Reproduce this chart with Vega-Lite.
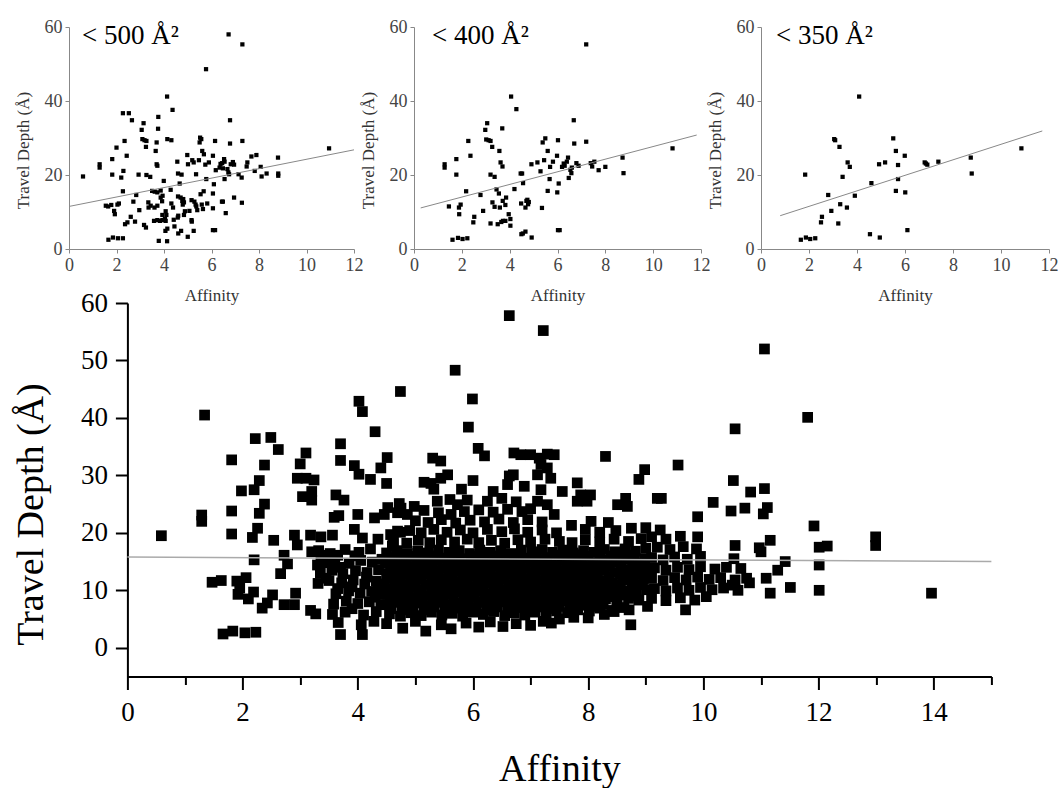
{
"$schema": "https://vega.github.io/schema/vega-lite/v6.json",
"padding": {"left": 12, "top": 18, "right": 5, "bottom": 0},
"config": {
  "font": "Liberation Serif",
  "view": {"stroke": null},
  "axis": {"grid": false, "titleFont": "Liberation Serif", "labelFont": "Liberation Serif", "titleFontWeight": "normal", "labelOverlap": false, "labelFlush": false, "format": "d"},
  "title": {"font": "Liberation Serif", "fontWeight": "normal", "color": "#000"}
},
"datasets": {
  "area500": [
    {"affinity":0.59,"depth":19.6},{"affinity":1.29,"depth":22.9},{"affinity":1.29,"depth":22.0},{"affinity":1.55,"depth":11.7},{"affinity":1.65,"depth":11.5},{"affinity":1.78,"depth":11.9},{"affinity":1.66,"depth":2.5},{"affinity":1.85,"depth":3.1},{"affinity":2.06,"depth":2.9},{"affinity":2.27,"depth":2.9},{"affinity":1.82,"depth":24.3},{"affinity":1.82,"depth":20.1},{"affinity":1.9,"depth":10.3},{"affinity":1.93,"depth":9.4},{"affinity":2.0,"depth":27.4},{"affinity":2.1,"depth":12.3},{"affinity":2.04,"depth":12.0},{"affinity":2.2,"depth":19.3},{"affinity":2.27,"depth":36.7},{"affinity":2.52,"depth":36.7},{"affinity":2.34,"depth":29.2},{"affinity":2.29,"depth":21.1},{"affinity":2.43,"depth":25.2},{"affinity":2.27,"depth":15.6},{"affinity":2.36,"depth":6.7},{"affinity":2.46,"depth":7.2},{"affinity":2.6,"depth":8.7},{"affinity":2.65,"depth":34.8},{"affinity":2.71,"depth":12.8},{"affinity":2.78,"depth":7.4},{"affinity":2.83,"depth":14.6},{"affinity":2.93,"depth":20.1},{"affinity":2.96,"depth":10.5},{"affinity":3.06,"depth":32.2},{"affinity":3.14,"depth":34.0},{"affinity":3.09,"depth":29.7},{"affinity":3.18,"depth":29.4},{"affinity":3.26,"depth":29.2},{"affinity":3.24,"depth":27.6},{"affinity":3.16,"depth":6.5},{"affinity":3.24,"depth":5.8},{"affinity":3.26,"depth":20.0},{"affinity":3.42,"depth":19.5},{"affinity":3.34,"depth":12.6},{"affinity":3.35,"depth":11.2},{"affinity":3.44,"depth":11.7},{"affinity":3.5,"depth":15.7},{"affinity":3.58,"depth":7.6},{"affinity":3.72,"depth":7.8},{"affinity":3.83,"depth":7.6},{"affinity":3.93,"depth":7.8},{"affinity":3.65,"depth":26.5},{"affinity":3.69,"depth":28.8},{"affinity":3.69,"depth":22.9},{"affinity":3.72,"depth":22.5},{"affinity":3.76,"depth":35.7},{"affinity":3.75,"depth":32.5},{"affinity":3.61,"depth":15.5},{"affinity":3.72,"depth":15.3},{"affinity":3.86,"depth":15.8},{"affinity":3.6,"depth":11.2},{"affinity":3.72,"depth":11.7},{"affinity":3.78,"depth":2.2},{"affinity":3.86,"depth":13.9},{"affinity":3.94,"depth":14.4},{"affinity":3.92,"depth":12.9},{"affinity":3.93,"depth":9.2},{"affinity":4.07,"depth":10.2},{"affinity":4.1,"depth":9.2},{"affinity":4.04,"depth":8.1},{"affinity":4.07,"depth":7.6},{"affinity":4.06,"depth":4.9},{"affinity":4.14,"depth":5.5},{"affinity":3.99,"depth":18.4},{"affinity":4.13,"depth":41.2},{"affinity":4.14,"depth":29.7},{"affinity":4.31,"depth":29.4},{"affinity":4.13,"depth":2.1},{"affinity":4.28,"depth":16.0},{"affinity":4.36,"depth":37.6},{"affinity":4.31,"depth":12.3},{"affinity":4.38,"depth":11.2},{"affinity":4.41,"depth":7.9},{"affinity":4.44,"depth":6.1},{"affinity":4.56,"depth":23.6},{"affinity":4.59,"depth":20.4},{"affinity":4.74,"depth":20.1},{"affinity":4.59,"depth":14.2},{"affinity":4.7,"depth":13.9},{"affinity":4.58,"depth":8.5},{"affinity":4.6,"depth":9.0},{"affinity":4.6,"depth":4.2},{"affinity":4.72,"depth":4.9},{"affinity":4.66,"depth":17.7},{"affinity":4.77,"depth":13.0},{"affinity":4.81,"depth":13.5},{"affinity":4.84,"depth":12.6},{"affinity":4.84,"depth":9.2},{"affinity":4.88,"depth":10.2},{"affinity":4.79,"depth":12.0},{"affinity":4.98,"depth":25.4},{"affinity":5.01,"depth":22.9},{"affinity":5.0,"depth":3.3},{"affinity":5.07,"depth":10.3},{"affinity":5.16,"depth":7.8},{"affinity":5.17,"depth":7.4},{"affinity":5.16,"depth":13.2},{"affinity":5.19,"depth":24.0},{"affinity":5.25,"depth":23.4},{"affinity":5.25,"depth":4.9},{"affinity":5.28,"depth":12.8},{"affinity":5.33,"depth":12.0},{"affinity":5.36,"depth":11.5},{"affinity":5.35,"depth":20.2},{"affinity":5.4,"depth":10.5},{"affinity":5.47,"depth":24.0},{"affinity":5.52,"depth":30.1},{"affinity":5.57,"depth":29.7},{"affinity":5.5,"depth":28.8},{"affinity":5.54,"depth":14.8},{"affinity":5.59,"depth":12.0},{"affinity":5.64,"depth":10.8},{"affinity":5.61,"depth":26.5},{"affinity":5.67,"depth":15.6},{"affinity":5.68,"depth":25.6},{"affinity":5.74,"depth":22.8},{"affinity":5.77,"depth":48.6},{"affinity":5.78,"depth":18.9},{"affinity":5.82,"depth":12.3},{"affinity":5.89,"depth":23.4},{"affinity":6.06,"depth":25.2},{"affinity":6.06,"depth":15.0},{"affinity":6.1,"depth":17.5},{"affinity":6.06,"depth":11.0},{"affinity":6.06,"depth":5.1},{"affinity":6.15,"depth":5.1},{"affinity":6.15,"depth":29.2},{"affinity":6.18,"depth":21.3},{"affinity":6.34,"depth":22.0},{"affinity":6.38,"depth":23.0},{"affinity":6.45,"depth":23.2},{"affinity":6.48,"depth":21.8},{"affinity":6.44,"depth":12.8},{"affinity":6.48,"depth":12.8},{"affinity":6.53,"depth":24.3},{"affinity":6.55,"depth":23.6},{"affinity":6.55,"depth":18.9},{"affinity":6.6,"depth":9.7},{"affinity":6.67,"depth":21.6},{"affinity":6.71,"depth":20.7},{"affinity":6.74,"depth":20.2},{"affinity":6.72,"depth":58.0},{"affinity":6.78,"depth":34.8},{"affinity":6.78,"depth":28.5},{"affinity":6.81,"depth":22.9},{"affinity":6.9,"depth":23.5},{"affinity":6.95,"depth":22.8},{"affinity":6.95,"depth":13.9},{"affinity":7.14,"depth":20.2},{"affinity":7.27,"depth":19.3},{"affinity":7.3,"depth":55.3},{"affinity":7.3,"depth":29.2},{"affinity":7.28,"depth":12.5},{"affinity":7.48,"depth":22.3},{"affinity":7.51,"depth":23.4},{"affinity":7.68,"depth":25.0},{"affinity":7.89,"depth":25.4},{"affinity":7.82,"depth":21.1},{"affinity":8.07,"depth":22.2},{"affinity":8.11,"depth":19.6},{"affinity":8.32,"depth":20.4},{"affinity":8.8,"depth":24.7},{"affinity":8.81,"depth":20.4},{"affinity":8.81,"depth":19.8},{"affinity":10.95,"depth":27.2}
  ],
  "area400": [
    {"affinity":1.28,"depth":22.9},{"affinity":1.28,"depth":22.0},{"affinity":1.46,"depth":11.5},{"affinity":1.61,"depth":2.5},{"affinity":1.77,"depth":24.3},{"affinity":1.77,"depth":20.1},{"affinity":1.84,"depth":3.0},{"affinity":1.88,"depth":11.2},{"affinity":1.95,"depth":12.0},{"affinity":1.89,"depth":9.4},{"affinity":2.03,"depth":2.7},{"affinity":2.23,"depth":2.9},{"affinity":2.18,"depth":15.6},{"affinity":2.27,"depth":29.2},{"affinity":2.36,"depth":25.2},{"affinity":2.48,"depth":7.2},{"affinity":2.52,"depth":8.7},{"affinity":2.78,"depth":14.6},{"affinity":2.89,"depth":10.3},{"affinity":2.98,"depth":32.2},{"affinity":3.06,"depth":34.0},{"affinity":3.02,"depth":29.6},{"affinity":3.12,"depth":29.4},{"affinity":3.2,"depth":29.2},{"affinity":3.2,"depth":6.9},{"affinity":3.2,"depth":20.1},{"affinity":3.37,"depth":19.5},{"affinity":3.27,"depth":27.6},{"affinity":3.28,"depth":12.6},{"affinity":3.37,"depth":11.4},{"affinity":3.45,"depth":16.1},{"affinity":3.5,"depth":6.7},{"affinity":3.65,"depth":7.3},{"affinity":3.72,"depth":7.6},{"affinity":3.82,"depth":7.6},{"affinity":3.55,"depth":15.0},{"affinity":3.57,"depth":26.5},{"affinity":3.62,"depth":23.4},{"affinity":3.69,"depth":32.6},{"affinity":3.7,"depth":22.3},{"affinity":3.59,"depth":11.2},{"affinity":3.71,"depth":13.0},{"affinity":3.82,"depth":11.9},{"affinity":3.85,"depth":13.9},{"affinity":3.96,"depth":9.4},{"affinity":4.03,"depth":8.1},{"affinity":4.03,"depth":6.3},{"affinity":4.06,"depth":41.2},{"affinity":4.28,"depth":37.8},{"affinity":4.2,"depth":16.2},{"affinity":4.46,"depth":20.4},{"affinity":4.52,"depth":20.4},{"affinity":4.48,"depth":12.3},{"affinity":4.49,"depth":4.0},{"affinity":4.55,"depth":4.2},{"affinity":4.56,"depth":17.8},{"affinity":4.66,"depth":4.7},{"affinity":4.66,"depth":11.2},{"affinity":4.7,"depth":13.0},{"affinity":4.74,"depth":13.3},{"affinity":4.77,"depth":12.1},{"affinity":4.8,"depth":12.7},{"affinity":4.91,"depth":22.9},{"affinity":4.92,"depth":3.1},{"affinity":5.16,"depth":23.4},{"affinity":5.29,"depth":21.0},{"affinity":5.35,"depth":11.1},{"affinity":5.38,"depth":28.8},{"affinity":5.49,"depth":29.9},{"affinity":5.44,"depth":24.0},{"affinity":5.59,"depth":26.5},{"affinity":5.59,"depth":15.7},{"affinity":5.67,"depth":18.9},{"affinity":5.69,"depth":22.2},{"affinity":5.81,"depth":23.6},{"affinity":5.98,"depth":25.2},{"affinity":6.02,"depth":29.4},{"affinity":5.99,"depth":15.3},{"affinity":6.02,"depth":5.1},{"affinity":6.09,"depth":5.1},{"affinity":6.05,"depth":17.7},{"affinity":6.19,"depth":22.2},{"affinity":6.26,"depth":23.1},{"affinity":6.3,"depth":22.5},{"affinity":6.39,"depth":23.6},{"affinity":6.44,"depth":24.7},{"affinity":6.47,"depth":19.2},{"affinity":6.54,"depth":21.4},{"affinity":6.6,"depth":22.0},{"affinity":6.58,"depth":20.5},{"affinity":6.68,"depth":34.8},{"affinity":6.7,"depth":28.5},{"affinity":6.79,"depth":23.2},{"affinity":6.88,"depth":22.5},{"affinity":7.2,"depth":55.3},{"affinity":7.2,"depth":29.0},{"affinity":7.39,"depth":23.2},{"affinity":7.45,"depth":22.3},{"affinity":7.54,"depth":23.6},{"affinity":7.72,"depth":21.3},{"affinity":8.0,"depth":22.2},{"affinity":8.72,"depth":24.7},{"affinity":8.76,"depth":20.5},{"affinity":10.81,"depth":27.2}
  ],
  "area350": [
    {"affinity":1.66,"depth":2.5},{"affinity":1.84,"depth":20.1},{"affinity":1.87,"depth":3.1},{"affinity":2.05,"depth":2.7},{"affinity":2.26,"depth":2.9},{"affinity":2.5,"depth":7.2},{"affinity":2.54,"depth":8.7},{"affinity":2.8,"depth":14.6},{"affinity":2.93,"depth":10.3},{"affinity":3.05,"depth":29.7},{"affinity":3.09,"depth":29.4},{"affinity":3.22,"depth":6.9},{"affinity":3.27,"depth":27.6},{"affinity":3.3,"depth":12.1},{"affinity":3.4,"depth":19.5},{"affinity":3.58,"depth":11.2},{"affinity":3.61,"depth":23.4},{"affinity":3.7,"depth":22.2},{"affinity":3.91,"depth":14.4},{"affinity":4.09,"depth":41.2},{"affinity":4.54,"depth":4.0},{"affinity":4.6,"depth":17.8},{"affinity":4.92,"depth":22.9},{"affinity":4.95,"depth":3.1},{"affinity":5.17,"depth":23.4},{"affinity":5.51,"depth":29.9},{"affinity":5.62,"depth":26.5},{"affinity":5.62,"depth":15.7},{"affinity":5.71,"depth":22.7},{"affinity":5.71,"depth":18.9},{"affinity":5.99,"depth":25.2},{"affinity":6.01,"depth":15.3},{"affinity":6.1,"depth":5.1},{"affinity":6.82,"depth":23.4},{"affinity":6.87,"depth":23.1},{"affinity":6.93,"depth":22.8},{"affinity":7.39,"depth":23.6},{"affinity":8.74,"depth":24.7},{"affinity":8.78,"depth":20.4},{"affinity":10.85,"depth":27.2}
  ],
  "all": [
    {"affinity":0.59,"depth":19.5},{"affinity":1.34,"depth":40.5},{"affinity":1.29,"depth":23.1},{"affinity":1.29,"depth":22.0},{"affinity":1.47,"depth":11.4},{"affinity":1.63,"depth":11.7},{"affinity":1.66,"depth":2.4},{"affinity":1.83,"depth":2.9},{"affinity":2.04,"depth":2.6},{"affinity":2.23,"depth":2.7},{"affinity":1.81,"depth":32.7},{"affinity":1.81,"depth":23.8},{"affinity":1.81,"depth":19.8},{"affinity":1.98,"depth":27.3},{"affinity":1.9,"depth":11.6},{"affinity":1.95,"depth":10.4},{"affinity":1.92,"depth":9.3},{"affinity":2.06,"depth":12.2},{"affinity":2.1,"depth":8.5},{"affinity":2.19,"depth":9.7},{"affinity":2.22,"depth":36.4},{"affinity":2.49,"depth":36.6},{"affinity":2.62,"depth":34.5},{"affinity":2.38,"depth":31.8},{"affinity":2.29,"depth":29.1},{"affinity":2.2,"depth":27.5},{"affinity":2.38,"depth":25.0},{"affinity":2.29,"depth":23.4},{"affinity":2.26,"depth":20.8},{"affinity":2.17,"depth":19.2},{"affinity":2.2,"depth":15.3},{"affinity":2.54,"depth":18.7},{"affinity":2.34,"depth":6.9},{"affinity":2.43,"depth":7.8},{"affinity":2.52,"depth":9.2},{"affinity":2.72,"depth":16.1},{"affinity":2.78,"depth":14.6},{"affinity":2.66,"depth":12.9},{"affinity":2.9,"depth":19.6},{"affinity":2.95,"depth":17.9},{"affinity":2.72,"depth":7.5},{"affinity":2.9,"depth":7.5},{"affinity":2.92,"depth":9.5},{"affinity":3.1,"depth":33.9},{"affinity":3.0,"depth":32.0},{"affinity":2.95,"depth":29.5},{"affinity":3.1,"depth":29.5},{"affinity":3.24,"depth":29.2},{"affinity":3.2,"depth":27.2},{"affinity":3.04,"depth":26.3},{"affinity":3.2,"depth":25.7},{"affinity":3.18,"depth":19.6},{"affinity":3.36,"depth":19.3},{"affinity":3.56,"depth":19.6},{"affinity":3.2,"depth":16.7},{"affinity":3.36,"depth":16.1},{"affinity":3.3,"depth":14.4},{"affinity":3.47,"depth":15.0},{"affinity":3.65,"depth":16.1},{"affinity":3.18,"depth":6.5},{"affinity":3.27,"depth":5.9},{"affinity":3.62,"depth":26.6},{"affinity":3.76,"depth":25.7},{"affinity":3.7,"depth":35.5},{"affinity":3.7,"depth":32.6},{"affinity":3.59,"depth":22.7},{"affinity":3.67,"depth":23.0},{"affinity":4.0,"depth":23.2},{"affinity":3.94,"depth":20.6},{"affinity":4.08,"depth":19.1},{"affinity":3.94,"depth":31.7},{"affinity":4.02,"depth":30.2},{"affinity":4.22,"depth":29.3},{"affinity":4.4,"depth":31.3},{"affinity":4.02,"depth":42.9},{"affinity":4.08,"depth":41.1},{"affinity":4.3,"depth":37.6},{"affinity":4.51,"depth":33.1},{"affinity":4.5,"depth":28.6},{"affinity":4.29,"depth":22.6},{"affinity":4.46,"depth":23.2},{"affinity":4.52,"depth":24.4},{"affinity":4.72,"depth":25.1},{"affinity":4.69,"depth":23.5},{"affinity":4.35,"depth":18.9},{"affinity":4.61,"depth":18.0},{"affinity":4.74,"depth":20.1},{"affinity":4.74,"depth":44.6},
    {"affinity":6.63,"depth":57.8},{"affinity":7.22,"depth":55.2},{"affinity":5.69,"depth":48.3},{"affinity":5.99,"depth":43.3},{"affinity":5.92,"depth":38.4},{"affinity":6.09,"depth":34.7},{"affinity":6.2,"depth":33.4},{"affinity":6.71,"depth":33.9},{"affinity":6.83,"depth":33.6},{"affinity":7.0,"depth":33.6},{"affinity":7.15,"depth":33.0},{"affinity":7.29,"depth":33.7},{"affinity":7.41,"depth":33.6},{"affinity":7.18,"depth":31.9},{"affinity":7.29,"depth":31.3},{"affinity":7.35,"depth":29.5},{"affinity":7.12,"depth":30.1},{"affinity":6.63,"depth":29.9},{"affinity":6.7,"depth":30.1},{"affinity":6.89,"depth":28.1},{"affinity":6.6,"depth":28.4},{"affinity":7.18,"depth":27.5},{"affinity":7.12,"depth":25.5},{"affinity":7.29,"depth":24.9},{"affinity":7.41,"depth":23.2},{"affinity":7.55,"depth":27.2},{"affinity":7.81,"depth":28.7},{"affinity":7.87,"depth":26.6},{"affinity":8.04,"depth":26.6},{"affinity":7.81,"depth":25.5},{"affinity":7.98,"depth":25.5},{"affinity":7.71,"depth":21.3},{"affinity":8.3,"depth":33.3},{"affinity":8.65,"depth":26.0},{"affinity":8.51,"depth":24.9},{"affinity":8.68,"depth":24.6},{"affinity":8.98,"depth":31.0},{"affinity":8.88,"depth":29.3},{"affinity":5.3,"depth":33.0},{"affinity":5.44,"depth":32.5},{"affinity":5.27,"depth":28.6},{"affinity":5.44,"depth":29.5},{"affinity":5.56,"depth":30.1},{"affinity":6.0,"depth":29.1},{"affinity":5.9,"depth":25.7},{"affinity":5.73,"depth":24.9},{"affinity":5.62,"depth":23.2},{"affinity":5.38,"depth":25.5},{"affinity":5.15,"depth":28.8},{"affinity":5.32,"depth":27.6},{"affinity":4.98,"depth":24.6},{"affinity":4.86,"depth":23.2},{"affinity":4.75,"depth":24.3},{"affinity":4.57,"depth":19.7},{"affinity":4.69,"depth":20.3},{"affinity":4.6,"depth":17.7},{"affinity":7.36,"depth":4.3},{"affinity":8.71,"depth":6.6},{"affinity":7.98,"depth":7.8},{"affinity":8.45,"depth":6.3},
    {"affinity":11.06,"depth":52.0},{"affinity":11.81,"depth":40.1},{"affinity":10.55,"depth":38.1},{"affinity":9.56,"depth":31.8},{"affinity":9.2,"depth":26.0},{"affinity":9.27,"depth":26.0},{"affinity":10.17,"depth":25.3},{"affinity":9.9,"depth":22.8},{"affinity":10.52,"depth":29.1},{"affinity":10.82,"depth":27.1},{"affinity":11.06,"depth":27.7},{"affinity":10.72,"depth":24.3},{"affinity":10.48,"depth":23.8},{"affinity":11.11,"depth":24.4},{"affinity":11.04,"depth":23.3},{"affinity":9.9,"depth":19.3},{"affinity":10.55,"depth":17.8},{"affinity":10.97,"depth":17.4},{"affinity":11.0,"depth":16.7},{"affinity":11.16,"depth":18.7},{"affinity":11.92,"depth":21.2},{"affinity":12.01,"depth":17.5},{"affinity":12.15,"depth":17.7},{"affinity":12.01,"depth":14.4},{"affinity":12.01,"depth":10.0},{"affinity":12.99,"depth":19.3},{"affinity":12.99,"depth":17.8},{"affinity":11.42,"depth":15.0},{"affinity":11.29,"depth":13.5},{"affinity":11.09,"depth":12.1},{"affinity":11.16,"depth":9.5},{"affinity":11.51,"depth":10.5},{"affinity":10.8,"depth":11.3},{"affinity":10.65,"depth":13.8},{"affinity":10.53,"depth":15.5},{"affinity":10.5,"depth":10.9},{"affinity":9.69,"depth":6.6},{"affinity":9.03,"depth":7.2},{"affinity":8.74,"depth":4.0},{"affinity":13.96,"depth":9.5},
    {"affinity":3.32,"depth":16.9},{"affinity":3.52,"depth":16.4},{"affinity":3.78,"depth":17.1},{"affinity":4.02,"depth":16.6},{"affinity":4.22,"depth":17.2},
    {"affinity":3.4,"depth":14.8},{"affinity":3.6,"depth":15.3},{"affinity":3.85,"depth":14.7},{"affinity":4.05,"depth":15.2},{"affinity":4.25,"depth":14.9},{"affinity":4.42,"depth":15.4},
    {"affinity":3.35,"depth":13.0},{"affinity":3.55,"depth":13.5},{"affinity":3.74,"depth":12.9},{"affinity":3.96,"depth":13.4},{"affinity":4.16,"depth":13.1},{"affinity":4.36,"depth":13.6},
    {"affinity":3.31,"depth":11.2},{"affinity":3.5,"depth":11.7},{"affinity":3.72,"depth":11.3},{"affinity":3.92,"depth":11.8},{"affinity":4.12,"depth":11.1},{"affinity":4.32,"depth":11.6},
    {"affinity":3.62,"depth":9.4},{"affinity":3.84,"depth":9.9},{"affinity":4.04,"depth":9.5},{"affinity":4.24,"depth":9.8},{"affinity":4.42,"depth":9.3},
    {"affinity":3.58,"depth":7.6},{"affinity":3.8,"depth":8.1},{"affinity":4.0,"depth":7.7},{"affinity":4.2,"depth":8.0},{"affinity":4.4,"depth":7.5},
    {"affinity":3.56,"depth":5.8},{"affinity":3.78,"depth":6.2},{"affinity":4.1,"depth":5.7},{"affinity":4.32,"depth":6.3},
    {"affinity":3.66,"depth":4.4},{"affinity":4.06,"depth":4.0},{"affinity":4.28,"depth":4.6},{"affinity":3.7,"depth":2.3},{"affinity":4.08,"depth":2.3},
    {"affinity":3.45,"depth":12.1},{"affinity":3.65,"depth":10.3},{"affinity":3.9,"depth":10.6},{"affinity":4.15,"depth":12.3},{"affinity":4.35,"depth":10.4},{"affinity":3.7,"depth":14.0},{"affinity":3.95,"depth":16.0},{"affinity":4.3,"depth":8.8},{"affinity":3.9,"depth":6.8},
    {"affinity":4.5,"depth":4.2},{"affinity":4.78,"depth":3.4},{"affinity":5.0,"depth":4.6},{"affinity":5.18,"depth":2.9},{"affinity":5.45,"depth":4.0},{"affinity":5.62,"depth":3.3},{"affinity":5.88,"depth":4.3},{"affinity":6.1,"depth":3.6},{"affinity":6.3,"depth":4.5},{"affinity":6.52,"depth":3.7},{"affinity":6.75,"depth":4.2},{"affinity":7.0,"depth":3.9},{"affinity":7.22,"depth":4.6},{"affinity":7.5,"depth":5.0},{"affinity":7.75,"depth":5.3},{"affinity":8.0,"depth":5.2},{"affinity":8.28,"depth":5.8},
    {"affinity":4.55,"depth":5.9},{"affinity":4.74,"depth":5.5},{"affinity":4.92,"depth":6.1},{"affinity":5.1,"depth":5.6},{"affinity":5.28,"depth":6.2},{"affinity":5.46,"depth":5.7},{"affinity":5.64,"depth":6.0},{"affinity":5.82,"depth":5.5},{"affinity":6.0,"depth":6.2},{"affinity":6.18,"depth":5.8},{"affinity":6.36,"depth":6.3},{"affinity":6.55,"depth":5.6},{"affinity":6.72,"depth":6.1},{"affinity":6.9,"depth":5.7},{"affinity":7.08,"depth":6.2},{"affinity":7.27,"depth":5.9},{"affinity":7.45,"depth":6.4},{"affinity":7.64,"depth":6.1},{"affinity":7.82,"depth":6.6},{"affinity":8.02,"depth":6.4},{"affinity":8.2,"depth":6.9},{"affinity":8.42,"depth":6.5},{"affinity":8.62,"depth":7.0},
    {"affinity":4.48,"depth":7.5},{"affinity":4.66,"depth":7.9},{"affinity":4.84,"depth":7.4},{"affinity":5.02,"depth":7.8},{"affinity":5.2,"depth":7.3},{"affinity":5.38,"depth":7.9},{"affinity":5.56,"depth":7.5},{"affinity":5.74,"depth":7.8},{"affinity":5.92,"depth":7.4},{"affinity":6.1,"depth":7.9},{"affinity":6.28,"depth":7.6},{"affinity":6.46,"depth":8.0},{"affinity":6.64,"depth":7.5},{"affinity":6.82,"depth":7.9},{"affinity":7.0,"depth":7.6},{"affinity":7.18,"depth":8.1},{"affinity":7.36,"depth":7.7},{"affinity":7.54,"depth":8.2},{"affinity":7.72,"depth":7.9},{"affinity":7.9,"depth":8.3},{"affinity":8.1,"depth":8.0},{"affinity":8.3,"depth":8.5},{"affinity":8.5,"depth":8.2},{"affinity":8.7,"depth":8.6},{"affinity":8.88,"depth":8.3},
    {"affinity":4.52,"depth":9.3},{"affinity":4.7,"depth":9.7},{"affinity":4.88,"depth":9.2},{"affinity":5.06,"depth":9.6},{"affinity":5.24,"depth":9.1},{"affinity":5.42,"depth":9.8},{"affinity":5.6,"depth":9.4},{"affinity":5.78,"depth":9.7},{"affinity":5.96,"depth":9.2},{"affinity":6.14,"depth":9.8},{"affinity":6.32,"depth":9.3},{"affinity":6.5,"depth":9.6},{"affinity":6.68,"depth":9.2},{"affinity":6.86,"depth":9.8},{"affinity":7.04,"depth":9.4},{"affinity":7.22,"depth":9.9},{"affinity":7.4,"depth":9.5},{"affinity":7.58,"depth":9.8},{"affinity":7.76,"depth":9.4},{"affinity":7.94,"depth":9.9},{"affinity":8.12,"depth":9.6},{"affinity":8.3,"depth":10.0},{"affinity":8.48,"depth":9.5},{"affinity":8.66,"depth":9.9},{"affinity":8.84,"depth":9.6},{"affinity":9.02,"depth":10.1},
    {"affinity":4.46,"depth":11.1},{"affinity":4.64,"depth":11.5},{"affinity":4.82,"depth":11.0},{"affinity":5.0,"depth":11.4},{"affinity":5.18,"depth":11.0},{"affinity":5.36,"depth":11.6},{"affinity":5.54,"depth":11.2},{"affinity":5.72,"depth":11.5},{"affinity":5.9,"depth":11.0},{"affinity":6.08,"depth":11.6},{"affinity":6.26,"depth":11.2},{"affinity":6.44,"depth":11.5},{"affinity":6.62,"depth":11.0},{"affinity":6.8,"depth":11.6},{"affinity":6.98,"depth":11.3},{"affinity":7.16,"depth":11.7},{"affinity":7.34,"depth":11.2},{"affinity":7.52,"depth":11.6},{"affinity":7.7,"depth":11.1},{"affinity":7.88,"depth":11.5},{"affinity":8.06,"depth":11.2},{"affinity":8.24,"depth":11.7},{"affinity":8.42,"depth":11.3},{"affinity":8.6,"depth":11.8},{"affinity":8.78,"depth":11.4},{"affinity":8.96,"depth":11.9},
    {"affinity":4.5,"depth":12.9},{"affinity":4.68,"depth":13.3},{"affinity":4.86,"depth":12.8},{"affinity":5.04,"depth":13.2},{"affinity":5.22,"depth":12.9},{"affinity":5.4,"depth":13.4},{"affinity":5.58,"depth":13.0},{"affinity":5.76,"depth":13.3},{"affinity":5.94,"depth":12.8},{"affinity":6.12,"depth":13.4},{"affinity":6.3,"depth":13.0},{"affinity":6.48,"depth":13.3},{"affinity":6.66,"depth":12.8},{"affinity":6.84,"depth":13.4},{"affinity":7.02,"depth":13.1},{"affinity":7.2,"depth":13.5},{"affinity":7.38,"depth":13.0},{"affinity":7.56,"depth":13.4},{"affinity":7.74,"depth":12.9},{"affinity":7.92,"depth":13.3},{"affinity":8.1,"depth":13.0},{"affinity":8.28,"depth":13.5},{"affinity":8.46,"depth":13.1},{"affinity":8.64,"depth":13.6},{"affinity":8.82,"depth":13.2},{"affinity":9.0,"depth":13.7},
    {"affinity":4.48,"depth":14.7},{"affinity":4.66,"depth":15.1},{"affinity":4.84,"depth":14.6},{"affinity":5.02,"depth":15.0},{"affinity":5.2,"depth":14.7},{"affinity":5.38,"depth":15.2},{"affinity":5.56,"depth":14.8},{"affinity":5.74,"depth":15.1},{"affinity":5.92,"depth":14.6},{"affinity":6.1,"depth":15.2},{"affinity":6.28,"depth":14.8},{"affinity":6.46,"depth":15.1},{"affinity":6.64,"depth":14.6},{"affinity":6.82,"depth":15.2},{"affinity":7.0,"depth":14.9},{"affinity":7.18,"depth":15.3},{"affinity":7.36,"depth":14.8},{"affinity":7.54,"depth":15.2},{"affinity":7.72,"depth":14.7},{"affinity":7.9,"depth":15.1},{"affinity":8.08,"depth":14.8},{"affinity":8.26,"depth":15.3},{"affinity":8.44,"depth":14.9},{"affinity":8.62,"depth":15.4},{"affinity":8.8,"depth":15.0},{"affinity":8.98,"depth":15.5},
    {"affinity":4.5,"depth":16.5},{"affinity":4.68,"depth":16.9},{"affinity":4.86,"depth":16.4},{"affinity":5.04,"depth":16.8},{"affinity":5.22,"depth":16.5},{"affinity":5.4,"depth":17.0},{"affinity":5.58,"depth":16.6},{"affinity":5.76,"depth":16.9},{"affinity":5.94,"depth":16.4},{"affinity":6.12,"depth":17.0},{"affinity":6.3,"depth":16.6},{"affinity":6.48,"depth":16.9},{"affinity":6.66,"depth":16.4},{"affinity":6.84,"depth":17.0},{"affinity":7.02,"depth":16.7},{"affinity":7.2,"depth":17.1},{"affinity":7.38,"depth":16.6},{"affinity":7.56,"depth":17.0},{"affinity":7.74,"depth":16.5},{"affinity":7.92,"depth":16.9},{"affinity":8.1,"depth":16.6},{"affinity":8.28,"depth":17.1},{"affinity":8.46,"depth":16.7},{"affinity":8.64,"depth":17.2},{"affinity":8.82,"depth":16.8},{"affinity":9.0,"depth":17.3},
    {"affinity":4.58,"depth":6.8},{"affinity":4.77,"depth":6.6},{"affinity":4.96,"depth":7.0},{"affinity":5.15,"depth":6.6},{"affinity":5.33,"depth":7.1},{"affinity":5.52,"depth":6.7},{"affinity":5.7,"depth":6.9},{"affinity":5.88,"depth":6.5},{"affinity":6.06,"depth":7.0},{"affinity":6.24,"depth":6.6},{"affinity":6.42,"depth":7.1},{"affinity":6.6,"depth":6.6},{"affinity":6.78,"depth":7.0},{"affinity":6.96,"depth":6.7},{"affinity":7.14,"depth":7.1},{"affinity":7.32,"depth":6.8},{"affinity":7.5,"depth":7.2},{"affinity":7.68,"depth":7.0},{"affinity":7.86,"depth":7.4},{"affinity":8.06,"depth":7.2},{"affinity":8.26,"depth":7.6},{"affinity":8.5,"depth":7.4},
    {"affinity":4.57,"depth":8.5},{"affinity":4.76,"depth":8.3},{"affinity":4.94,"depth":8.7},{"affinity":5.12,"depth":8.3},{"affinity":5.3,"depth":8.8},{"affinity":5.48,"depth":8.4},{"affinity":5.66,"depth":8.7},{"affinity":5.84,"depth":8.3},{"affinity":6.02,"depth":8.8},{"affinity":6.2,"depth":8.4},{"affinity":6.38,"depth":8.8},{"affinity":6.56,"depth":8.3},{"affinity":6.74,"depth":8.7},{"affinity":6.92,"depth":8.4},{"affinity":7.1,"depth":8.9},{"affinity":7.28,"depth":8.5},{"affinity":7.46,"depth":8.9},{"affinity":7.64,"depth":8.6},{"affinity":7.82,"depth":9.0},{"affinity":8.0,"depth":8.7},{"affinity":8.2,"depth":9.1},{"affinity":8.4,"depth":8.9},{"affinity":8.6,"depth":9.2},{"affinity":8.8,"depth":9.0},
    {"affinity":4.56,"depth":10.3},{"affinity":4.74,"depth":10.1},{"affinity":4.92,"depth":10.5},{"affinity":5.1,"depth":10.1},{"affinity":5.28,"depth":10.6},{"affinity":5.46,"depth":10.2},{"affinity":5.64,"depth":10.5},{"affinity":5.82,"depth":10.1},{"affinity":6.0,"depth":10.6},{"affinity":6.18,"depth":10.2},{"affinity":6.36,"depth":10.6},{"affinity":6.54,"depth":10.1},{"affinity":6.72,"depth":10.5},{"affinity":6.9,"depth":10.2},{"affinity":7.08,"depth":10.7},{"affinity":7.26,"depth":10.3},{"affinity":7.44,"depth":10.7},{"affinity":7.62,"depth":10.4},{"affinity":7.8,"depth":10.8},{"affinity":7.98,"depth":10.5},{"affinity":8.16,"depth":10.9},{"affinity":8.36,"depth":10.6},{"affinity":8.56,"depth":11.0},{"affinity":8.76,"depth":10.7},{"affinity":8.94,"depth":11.0},
    {"affinity":4.56,"depth":12.1},{"affinity":4.74,"depth":11.9},{"affinity":4.92,"depth":12.3},{"affinity":5.1,"depth":11.9},{"affinity":5.28,"depth":12.4},{"affinity":5.46,"depth":12.0},{"affinity":5.64,"depth":12.3},{"affinity":5.82,"depth":11.9},{"affinity":6.0,"depth":12.4},{"affinity":6.18,"depth":12.0},{"affinity":6.36,"depth":12.4},{"affinity":6.54,"depth":11.9},{"affinity":6.72,"depth":12.3},{"affinity":6.9,"depth":12.0},{"affinity":7.08,"depth":12.5},{"affinity":7.26,"depth":12.1},{"affinity":7.44,"depth":12.5},{"affinity":7.62,"depth":12.2},{"affinity":7.8,"depth":12.6},{"affinity":7.98,"depth":12.3},{"affinity":8.16,"depth":12.7},{"affinity":8.36,"depth":12.4},{"affinity":8.56,"depth":12.8},{"affinity":8.76,"depth":12.5},{"affinity":8.94,"depth":12.8},
    {"affinity":4.57,"depth":13.9},{"affinity":4.75,"depth":13.7},{"affinity":4.93,"depth":14.1},{"affinity":5.11,"depth":13.7},{"affinity":5.29,"depth":14.2},{"affinity":5.47,"depth":13.8},{"affinity":5.65,"depth":14.1},{"affinity":5.83,"depth":13.7},{"affinity":6.01,"depth":14.2},{"affinity":6.19,"depth":13.8},{"affinity":6.37,"depth":14.2},{"affinity":6.55,"depth":13.7},{"affinity":6.73,"depth":14.1},{"affinity":6.91,"depth":13.8},{"affinity":7.09,"depth":14.3},{"affinity":7.27,"depth":13.9},{"affinity":7.45,"depth":14.3},{"affinity":7.63,"depth":14.0},{"affinity":7.81,"depth":14.4},{"affinity":7.99,"depth":14.1},{"affinity":8.17,"depth":14.5},{"affinity":8.37,"depth":14.2},{"affinity":8.57,"depth":14.6},{"affinity":8.77,"depth":14.3},{"affinity":8.95,"depth":14.6},
    {"affinity":4.58,"depth":15.7},{"affinity":4.76,"depth":15.5},{"affinity":4.94,"depth":15.9},{"affinity":5.12,"depth":15.5},{"affinity":5.3,"depth":16.0},{"affinity":5.48,"depth":15.6},{"affinity":5.66,"depth":15.9},{"affinity":5.84,"depth":15.5},{"affinity":6.02,"depth":16.0},{"affinity":6.2,"depth":15.6},{"affinity":6.38,"depth":16.0},{"affinity":6.56,"depth":15.5},{"affinity":6.74,"depth":15.9},{"affinity":6.92,"depth":15.6},{"affinity":7.1,"depth":16.1},{"affinity":7.28,"depth":15.7},{"affinity":7.46,"depth":16.1},{"affinity":7.64,"depth":15.8},{"affinity":7.82,"depth":16.2},{"affinity":8.0,"depth":15.9},{"affinity":8.2,"depth":16.3},{"affinity":8.4,"depth":16.0},{"affinity":8.6,"depth":16.4},{"affinity":8.8,"depth":16.1},
    {"affinity":4.62,"depth":18.5},{"affinity":4.85,"depth":18.2},{"affinity":5.05,"depth":18.7},{"affinity":5.25,"depth":18.3},{"affinity":5.45,"depth":18.8},{"affinity":5.68,"depth":18.4},{"affinity":5.9,"depth":18.9},{"affinity":6.1,"depth":18.3},{"affinity":6.32,"depth":18.7},{"affinity":6.55,"depth":18.2},{"affinity":6.78,"depth":18.8},{"affinity":7.0,"depth":18.4},{"affinity":7.25,"depth":18.9},{"affinity":7.5,"depth":18.5},{"affinity":7.72,"depth":18.3},{"affinity":7.95,"depth":18.8},{"affinity":8.2,"depth":18.4},{"affinity":8.45,"depth":18.9},{"affinity":8.7,"depth":18.5},{"affinity":8.92,"depth":19.0},
    {"affinity":4.9,"depth":20.4},{"affinity":5.1,"depth":20.0},{"affinity":5.32,"depth":20.6},{"affinity":5.55,"depth":20.1},{"affinity":5.78,"depth":20.5},{"affinity":6.0,"depth":20.0},{"affinity":6.25,"depth":20.6},{"affinity":6.5,"depth":20.2},{"affinity":6.72,"depth":20.7},{"affinity":6.95,"depth":20.1},{"affinity":7.2,"depth":20.5},{"affinity":7.45,"depth":20.0},{"affinity":7.95,"depth":20.6},{"affinity":8.2,"depth":20.1},{"affinity":8.48,"depth":20.4},{"affinity":8.75,"depth":20.8},
    {"affinity":5.0,"depth":22.1},{"affinity":5.22,"depth":21.8},{"affinity":5.45,"depth":22.3},{"affinity":5.7,"depth":21.7},{"affinity":5.95,"depth":22.2},{"affinity":6.2,"depth":21.9},{"affinity":6.45,"depth":22.4},{"affinity":6.7,"depth":21.8},{"affinity":6.95,"depth":22.3},{"affinity":7.2,"depth":21.9},{"affinity":8.05,"depth":22.0},{"affinity":8.35,"depth":21.8},
    {"affinity":5.15,"depth":23.9},{"affinity":5.4,"depth":23.5},{"affinity":5.85,"depth":23.7},{"affinity":6.1,"depth":24.0},{"affinity":6.35,"depth":23.6},{"affinity":6.6,"depth":24.1},{"affinity":6.85,"depth":23.7},{"affinity":7.0,"depth":24.2},
    {"affinity":5.6,"depth":25.8},{"affinity":6.25,"depth":25.5},{"affinity":6.5,"depth":26.0},{"affinity":6.75,"depth":25.4},{"affinity":5.8,"depth":27.6},{"affinity":6.35,"depth":27.2},
    {"affinity":9.1,"depth":8.6},{"affinity":9.35,"depth":8.2},{"affinity":9.6,"depth":8.7},{"affinity":9.85,"depth":8.3},{"affinity":10.05,"depth":8.9},
    {"affinity":9.15,"depth":10.3},{"affinity":9.35,"depth":9.9},{"affinity":9.55,"depth":10.4},{"affinity":9.75,"depth":10.0},{"affinity":9.95,"depth":10.5},{"affinity":10.15,"depth":10.1},{"affinity":10.35,"depth":10.4},{"affinity":10.6,"depth":10.0},
    {"affinity":9.1,"depth":12.1},{"affinity":9.3,"depth":11.7},{"affinity":9.5,"depth":12.2},{"affinity":9.7,"depth":11.8},{"affinity":9.9,"depth":12.3},{"affinity":10.1,"depth":11.9},{"affinity":10.3,"depth":12.2},{"affinity":10.55,"depth":11.8},{"affinity":10.75,"depth":12.1},
    {"affinity":9.15,"depth":13.9},{"affinity":9.35,"depth":13.5},{"affinity":9.55,"depth":14.0},{"affinity":9.75,"depth":13.6},{"affinity":9.95,"depth":14.1},{"affinity":10.2,"depth":13.7},{"affinity":10.4,"depth":14.0},
    {"affinity":9.1,"depth":15.7},{"affinity":9.3,"depth":15.3},{"affinity":9.5,"depth":15.8},{"affinity":9.72,"depth":15.4},{"affinity":9.95,"depth":15.9},
    {"affinity":9.2,"depth":17.5},{"affinity":9.42,"depth":17.1},{"affinity":9.65,"depth":17.6},{"affinity":9.88,"depth":17.2},
    {"affinity":9.1,"depth":19.3},{"affinity":9.35,"depth":18.9},{"affinity":9.6,"depth":19.4},{"affinity":9.0,"depth":20.9},{"affinity":9.25,"depth":20.5}
  ],
  "fits": [
    {"set":"500","affinity":0,"depth":11.5},{"set":"500","affinity":12,"depth":26.8},
    {"set":"400","affinity":0.28,"depth":11.1},{"set":"400","affinity":11.82,"depth":30.8},
    {"set":"350","affinity":0.8,"depth":9.0},{"set":"350","affinity":11.72,"depth":31.9},
    {"set":"all","affinity":0,"depth":15.8},{"set":"all","affinity":15,"depth":15.0}
  ]
},
"spacing": -20,
"vconcat": [
  {
    "spacing": 60,
    "bounds": "flush",
    "hconcat": [
      {
        "width": 285, "height": 222,
        "title": {"text": "< 500 Å²", "anchor": "start", "fontSize": 27, "offset": -53, "dx": 13, "baseline": "alphabetic", "frame": "group"},
        "layer": [
          {"data": {"name": "area500"}, "mark": {"type": "square", "size": 18, "color": "#000", "opacity": 1},
           "encoding": {
             "x": {"field": "affinity", "type": "quantitative", "scale": {"domain": [0, 12], "nice": false},
                   "axis": {"values": [0,1,2,3,4,5,6,7,8,9,10,11,12], "labelExpr": "datum.value % 2 === 0 ? datum.label : ''", "tickSize": {"condition": {"test": "datum.value % 2 === 0", "value": 4}, "value": 2}, "title": "Affinity", "titleFontSize": 17, "titlePadding": 13, "titleColor": "#333", "labelFontSize": 18, "labelColor": "#444", "labelPadding": 3, "domainColor": "#888", "tickColor": "#888"}},
             "y": {"field": "depth", "type": "quantitative", "scale": {"domain": [0, 60], "nice": false},
                   "axis": {"values": [0,5,10,15,20,25,30,35,40,45,50,55,60], "labelExpr": "datum.value % 10 === 0 ? datum.label : ''", "tickSize": {"condition": {"test": "datum.value % 10 === 0", "value": 4}, "value": 2}, "title": "Travel Depth (Å)", "titleFontSize": 17, "titlePadding": 12, "titleY": 123, "titleColor": "#333", "labelFontSize": 18, "labelColor": "#444", "labelPadding": 3, "domainColor": "#888", "tickColor": "#888"}}
           }},
          {"data": {"name": "fits"}, "transform": [{"filter": "datum.set === '500'"}], "mark": {"type": "line", "color": "#888", "strokeWidth": 1},
           "encoding": {"x": {"field": "affinity", "type": "quantitative"}, "y": {"field": "depth", "type": "quantitative"}}}
        ]
      },
      {
        "width": 287, "height": 222,
        "title": {"text": "< 400 Å²", "anchor": "start", "fontSize": 27, "offset": -53, "dx": 18, "baseline": "alphabetic", "frame": "group"},
        "layer": [
          {"data": {"name": "area400"}, "mark": {"type": "square", "size": 18, "color": "#000", "opacity": 1},
           "encoding": {
             "x": {"field": "affinity", "type": "quantitative", "scale": {"domain": [0, 12], "nice": false},
                   "axis": {"values": [0,1,2,3,4,5,6,7,8,9,10,11,12], "labelExpr": "datum.value % 2 === 0 ? datum.label : ''", "tickSize": {"condition": {"test": "datum.value % 2 === 0", "value": 4}, "value": 2}, "title": "Affinity", "titleFontSize": 17, "titlePadding": 13, "titleColor": "#333", "labelFontSize": 18, "labelColor": "#444", "labelPadding": 3, "domainColor": "#888", "tickColor": "#888"}},
             "y": {"field": "depth", "type": "quantitative", "scale": {"domain": [0, 60], "nice": false},
                   "axis": {"values": [0,5,10,15,20,25,30,35,40,45,50,55,60], "labelExpr": "datum.value % 10 === 0 ? datum.label : ''", "tickSize": {"condition": {"test": "datum.value % 10 === 0", "value": 4}, "value": 2}, "title": "Travel Depth (Å)", "titleFontSize": 17, "titlePadding": 12, "titleY": 123, "titleColor": "#333", "labelFontSize": 18, "labelColor": "#444", "labelPadding": 3, "domainColor": "#888", "tickColor": "#888"}}
           }},
          {"data": {"name": "fits"}, "transform": [{"filter": "datum.set === '400'"}], "mark": {"type": "line", "color": "#888", "strokeWidth": 1},
           "encoding": {"x": {"field": "affinity", "type": "quantitative"}, "y": {"field": "depth", "type": "quantitative"}}}
        ]
      },
      {
        "width": 288, "height": 222,
        "title": {"text": "< 350 Å²", "anchor": "start", "fontSize": 27, "offset": -53, "dx": 15, "baseline": "alphabetic", "frame": "group"},
        "layer": [
          {"data": {"name": "area350"}, "mark": {"type": "square", "size": 18, "color": "#000", "opacity": 1},
           "encoding": {
             "x": {"field": "affinity", "type": "quantitative", "scale": {"domain": [0, 12], "nice": false},
                   "axis": {"values": [0,1,2,3,4,5,6,7,8,9,10,11,12], "labelExpr": "datum.value % 2 === 0 ? datum.label : ''", "tickSize": {"condition": {"test": "datum.value % 2 === 0", "value": 4}, "value": 2}, "title": "Affinity", "titleFontSize": 17, "titlePadding": 13, "titleColor": "#333", "labelFontSize": 18, "labelColor": "#444", "labelPadding": 3, "domainColor": "#888", "tickColor": "#888"}},
             "y": {"field": "depth", "type": "quantitative", "scale": {"domain": [0, 60], "nice": false},
                   "axis": {"values": [0,5,10,15,20,25,30,35,40,45,50,55,60], "labelExpr": "datum.value % 10 === 0 ? datum.label : ''", "tickSize": {"condition": {"test": "datum.value % 10 === 0", "value": 4}, "value": 2}, "title": "Travel Depth (Å)", "titleFontSize": 17, "titlePadding": 12, "titleY": 123, "titleColor": "#333", "labelFontSize": 18, "labelColor": "#444", "labelPadding": 3, "domainColor": "#888", "tickColor": "#888"}}
           }},
          {"data": {"name": "fits"}, "transform": [{"filter": "datum.set === '350'"}], "mark": {"type": "line", "color": "#888", "strokeWidth": 1},
           "encoding": {"x": {"field": "affinity", "type": "quantitative"}, "y": {"field": "depth", "type": "quantitative"}}}
        ]
      }
    ]
  },
  {
    "spacing": 57.4,
    "bounds": "flush",
    "hconcat": [
      {"width": 1, "height": 10, "data": {"values": []}, "mark": {"type": "point", "opacity": 0}},
      {
        "width": 864, "height": 373.5,
        "layer": [
          {"data": {"name": "all"}, "mark": {"type": "square", "size": 115, "color": "#000", "opacity": 1},
           "encoding": {
             "x": {"field": "affinity", "type": "quantitative", "scale": {"domain": [0, 15], "nice": false},
                   "axis": {"values": [0,1,2,3,4,5,6,7,8,9,10,11,12,13,14,15], "labelExpr": "datum.value % 2 === 0 ? datum.label : ''", "tickSize": {"condition": {"test": "datum.value % 2 === 0", "value": 13}, "value": 8}, "tickWidth": 2, "domainWidth": 2, "domainColor": "#000", "tickColor": "#000", "title": "Affinity", "titleFontSize": 38, "titlePadding": 25, "titleColor": "#000", "labelFontSize": 27, "labelColor": "#000", "labelPadding": 10}},
             "y": {"field": "depth", "type": "quantitative", "scale": {"domain": [-5, 60], "nice": false},
                   "axis": {"values": [0,5,10,15,20,25,30,35,40,45,50,55,60], "labelExpr": "datum.value % 10 === 0 ? datum.label : ''", "tickSize": {"condition": {"test": "datum.value % 10 === 0", "value": 12}, "value": 7}, "tickWidth": 2, "domainWidth": 2, "domainColor": "#000", "tickColor": "#000", "title": "Travel Depth (Å)", "titleFontSize": 38, "titlePadding": 30, "titleY": 211, "titleColor": "#000", "labelFontSize": 27, "labelColor": "#000", "labelPadding": 8}}
           }},
          {"data": {"name": "fits"}, "transform": [{"filter": "datum.set === 'all'"}], "mark": {"type": "line", "color": "#aaa", "strokeWidth": 1.5},
           "encoding": {"x": {"field": "affinity", "type": "quantitative"}, "y": {"field": "depth", "type": "quantitative"}}}
        ]
      }
    ]
  }
]
}
